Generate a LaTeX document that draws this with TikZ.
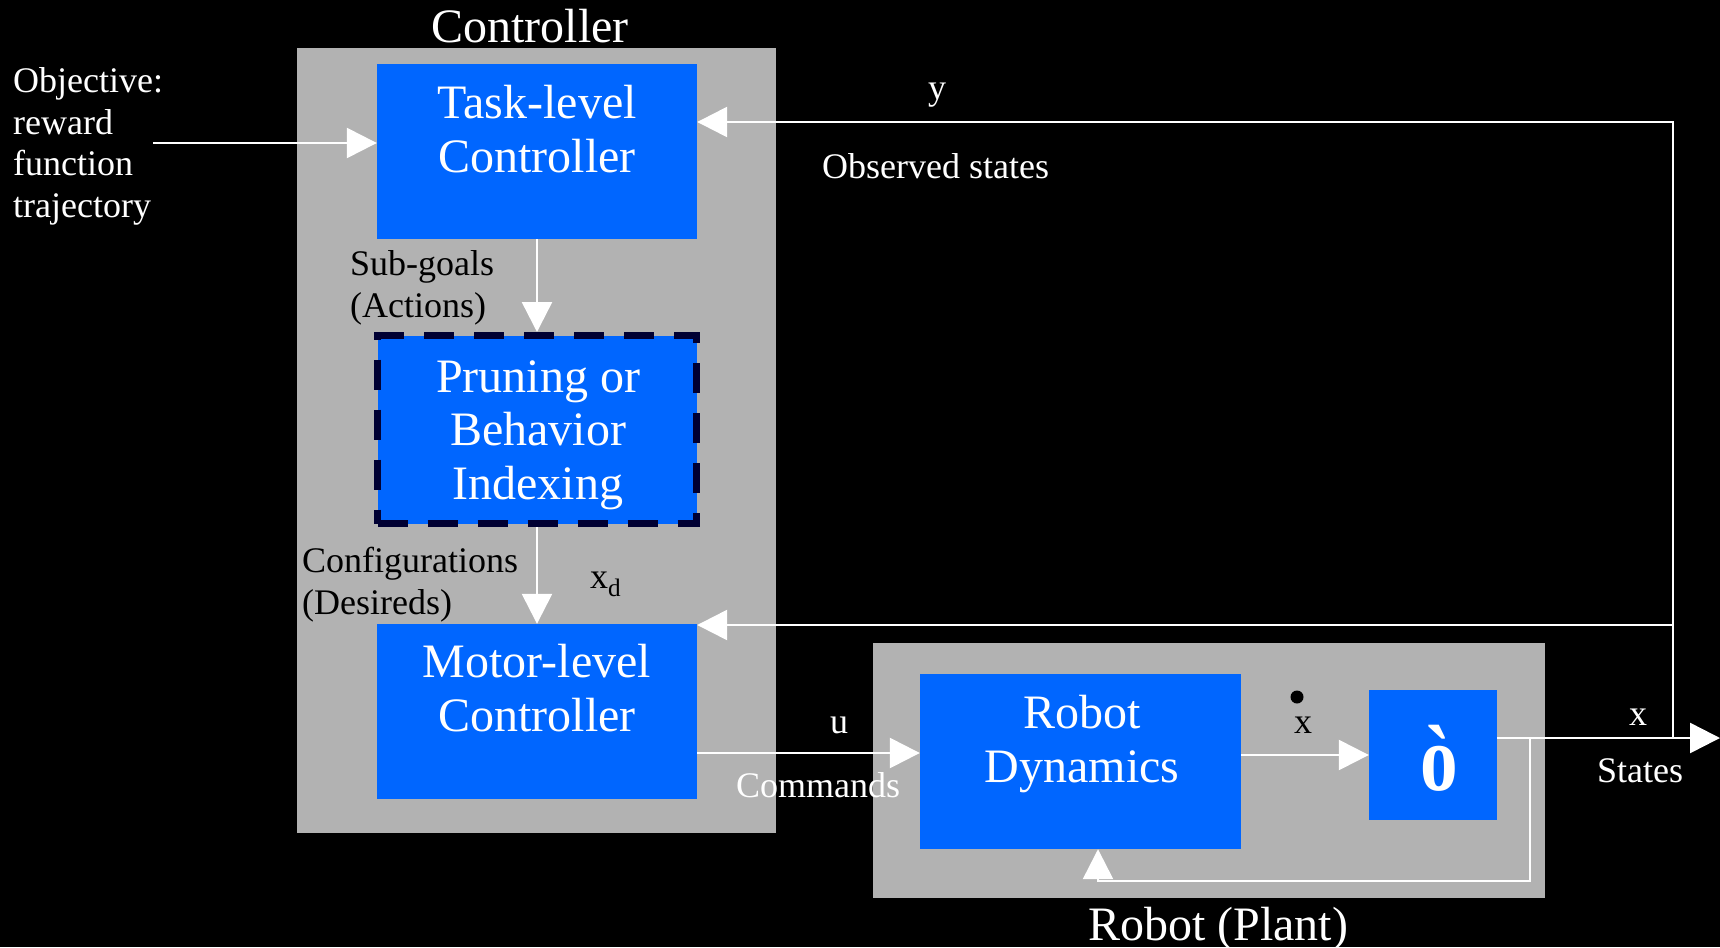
\documentclass[tikz,border=0pt]{standalone}
\usepackage{fontspec}
\setmainfont{Liberation Serif}
\usetikzlibrary{arrows.meta}
\definecolor{boxblue}{RGB}{0,102,255}
\definecolor{panelgrey}{RGB}{178,178,178}
\definecolor{navyline}{RGB}{0,0,51}

\tikzset{
	every picture/.append style={x=1pt,y=-1pt},
	panel/.style = {fill=panelgrey, inner sep=0pt},
	block/.style = {fill=boxblue, inner sep=0pt, minimum width=320pt, minimum height=175pt},
	dashblock/.style = {block, draw=navyline, line width=7pt, dash pattern=on 30pt off 20pt},
	blocktxt/.style = {text=white, align=center, inner sep=0pt, anchor=north, font=\fontsize{48pt}{53.5pt}\selectfont},
	title/.style = {text=white, inner sep=0pt, anchor=base, font=\fontsize{48pt}{53.5pt}\selectfont},
	lbl/.style = {inner sep=0pt, anchor=base, font=\fontsize{36pt}{41.5pt}\selectfont},
	sig/.style = {draw=white, line width=2.5pt, -{Triangle[length=30pt,width=30pt]}},
	wire/.style = {draw=white, line width=2.5pt}
}

\begin{document}
\begin{tikzpicture}
				\fill[black] (0,0) rectangle (1720,947);
				\useasboundingbox (0,0) rectangle (1720,947);
				\node[panel, minimum width=479pt, minimum height=785pt] at (536.5,440.5) (ctrl) {};
				\node[panel, minimum width=672pt, minimum height=255pt] at (1209,770.5) (plantbox) {};
				\node[block] at (537,151.5) (task) {};
				\node[dashblock, minimum width=319pt, minimum height=188pt] at (537,429.5) (prune) {};
				\node[block] at (537,711.5) (motor) {};
				\node[block, minimum width=321pt] at (1080.5,761.5) (dyn) {};
				\node[block, minimum width=128pt, minimum height=130pt] at (1433,755) (integ) {};
				\coordinate (objin) at (153,143);
				\coordinate (tap) at (1673,738);
				\coordinate (ytop) at (1673,122);
				\coordinate (xdtap) at (1673,625);
				\coordinate (xout) at (1720,738);
				\coordinate (fbtap) at (1530,738);
				\coordinate (fbbot) at (1530,881);
				\path (objin) edge [sig] (objin -| task.west);
				\path (task.south) edge [sig] (prune.north);
				\path (prune.south) edge [sig] (motor.north);
				\draw[sig] (tap) -- (ytop) -- (ytop -| task.east);
				\path (xdtap) edge [sig] (xdtap -| motor.east);
				\draw[sig] ([yshift=-41.5pt]motor.east) coordinate (cmdout) -- (cmdout -| dyn.west);
				\path (integ.west -| dyn.east) edge [sig] (integ.west);
				\draw[sig] ([yshift=17pt]integ.east) -- (xout);
				\draw[sig] (fbtap) -- (fbbot) -| ([xshift=17.5pt]dyn.south);
				\node[title] at (530,43) (ctrltitle) {Controller};
				\node[title] at (1218,940) (planttitle) {Robot (Plant)};
				\node[blocktxt] at (537,85.2) (tasktxt) {Task-level\\Controller};
				\node[blocktxt] at (538,360.2) (prunetxt) {Pruning or\\Behavior\\Indexing};
				\node[blocktxt] at (537,644.2) (motortxt) {Motor-level\\Controller};
				\node[blocktxt] at (1082,695.2) (dyntxt) {Robot\\Dynamics};
				\node[title, font=\fontsize{94pt}{100pt}\selectfont\bfseries] at (1439,790) (integtxt) {\scalebox{0.8}[1]{ò}};
				\node[lbl, text=white, anchor=north west, align=left] at (13,67.4) (objective) {Objective:\\reward\\function\\trajectory};
				\node[lbl, text=white] at (937,100) (ylbl) {y};
				\node[lbl, text=white, anchor=base west] at (822,178) (observed) {Observed states};
				\node[lbl, anchor=north west, align=left] at (350,250.4) (subgoals) {Sub-goals\\(Actions)};
				\node[lbl, anchor=north west, align=left] at (302,547.4) (configs) {Configurations\\(Desireds)};
				\node[lbl, anchor=base west] at (590,588) (xdlbl) {x\textsubscript{d}};
				\node[lbl, text=white] at (839,733) (ulbl) {u};
				\node[lbl, text=white] at (818,797) (cmdlbl) {Commands};
				\node[circle, fill=black, inner sep=0pt, minimum size=13pt] at (1297,697) (xdotmark) {};
				\node[lbl] at (1303,733) (xdotlbl) {x};
				\node[lbl, text=white] at (1638,725) (xlbl) {x};
				\node[lbl, text=white] at (1640,782) (states) {States};
			\end{tikzpicture}
\end{document}
